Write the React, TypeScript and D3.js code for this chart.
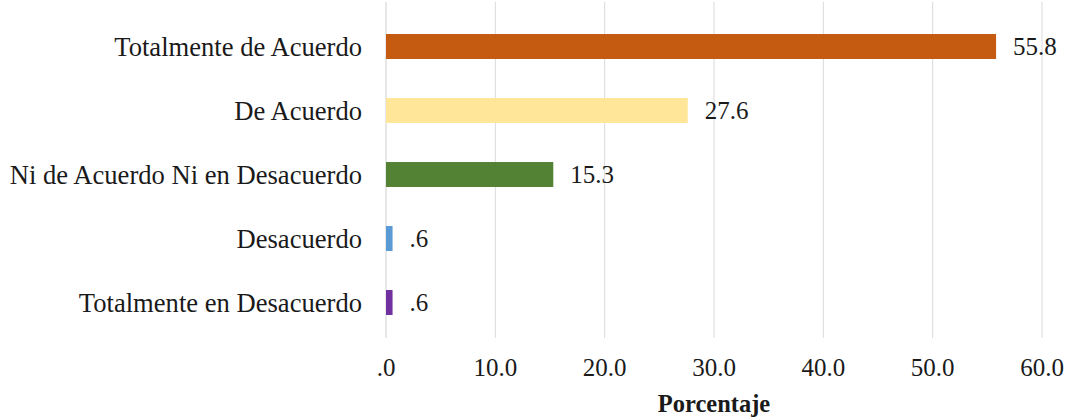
import React from "react";
import * as d3 from "d3";

const categories = [
  "Totalmente de Acuerdo",
  "De Acuerdo",
  "Ni de Acuerdo Ni en Desacuerdo",
  "Desacuerdo",
  "Totalmente en Desacuerdo",
];
const values = [55.8, 27.6, 15.3, 0.6, 0.6];
const valueLabels = ["55.8", "27.6", "15.3", ".6", ".6"];
const colors = ["#C55A11", "#FFE699", "#548235", "#5B9BD5", "#7030A0"];
const xTicks = [0, 10, 20, 30, 40, 50, 60];
const xTickLabels = [".0", "10.0", "20.0", "30.0", "40.0", "50.0", "60.0"];
const xTitle = "Porcentaje";

const W = 1069;
const H = 419;
const FONT = "Liberation Serif";

export default function App() {
  const x = d3.scaleLinear().domain([0, 60]).range([386, 1042]);
  const y = d3
    .scaleBand<string>()
    .domain(categories)
    .range([14.5, 334.5])
    .paddingInner(0.61)
    .paddingOuter(0.305);
  const bw = y.bandwidth();
  const gridTop = 2;
  const gridBottom = 338;
  const ts = { fontFamily: FONT };

  return (
    <svg
      width={W}
      height={H}
      style={{ position: "absolute", left: 0, top: 0, background: "#fff" }}
    >
      <rect x={0} y={0} width={W} height={H} fill="#fff" />
      {xTicks.map((t, i) => (
        <line
          key={"g" + i}
          x1={x(t)}
          x2={x(t)}
          y1={gridTop}
          y2={gridBottom}
          stroke={i === 0 ? "#cfcfcf" : "#d9d9d9"}
          strokeWidth={1}
        />
      ))}
      {categories.map((c, i) => (
        <rect
          key={"b" + i}
          x={x(0)}
          y={y(c)!}
          width={x(values[i]) - x(0)}
          height={bw}
          fill={colors[i]}
        />
      ))}
      {categories.map((c, i) => (
        <text
          key={"v" + i}
          x={x(values[i]) + 17}
          y={y(c)! + bw / 2}
          dy="0.35em"
          fontSize={25}
          fill="#1a1a1a"
          style={ts}
        >
          {valueLabels[i]}
        </text>
      ))}
      {categories.map((c, i) => (
        <text
          key={"c" + i}
          x={362}
          y={y(c)! + bw / 2}
          dy="0.35em"
          textAnchor="end"
          fontSize={26.6}
          fill="#1a1a1a"
          style={ts}
        >
          {c}
        </text>
      ))}
      {xTicks.map((t, i) => (
        <text
          key={"t" + i}
          x={x(t)}
          y={376}
          textAnchor="middle"
          fontSize={25}
          fill="#1a1a1a"
          style={ts}
        >
          {xTickLabels[i]}
        </text>
      ))}
      <text
        x={(x(0) + x(60)) / 2}
        y={412}
        textAnchor="middle"
        fontSize={24.5}
        fontWeight="bold"
        fill="#1a1a1a"
        style={ts}
      >
        {xTitle}
      </text>
    </svg>
  );
}
